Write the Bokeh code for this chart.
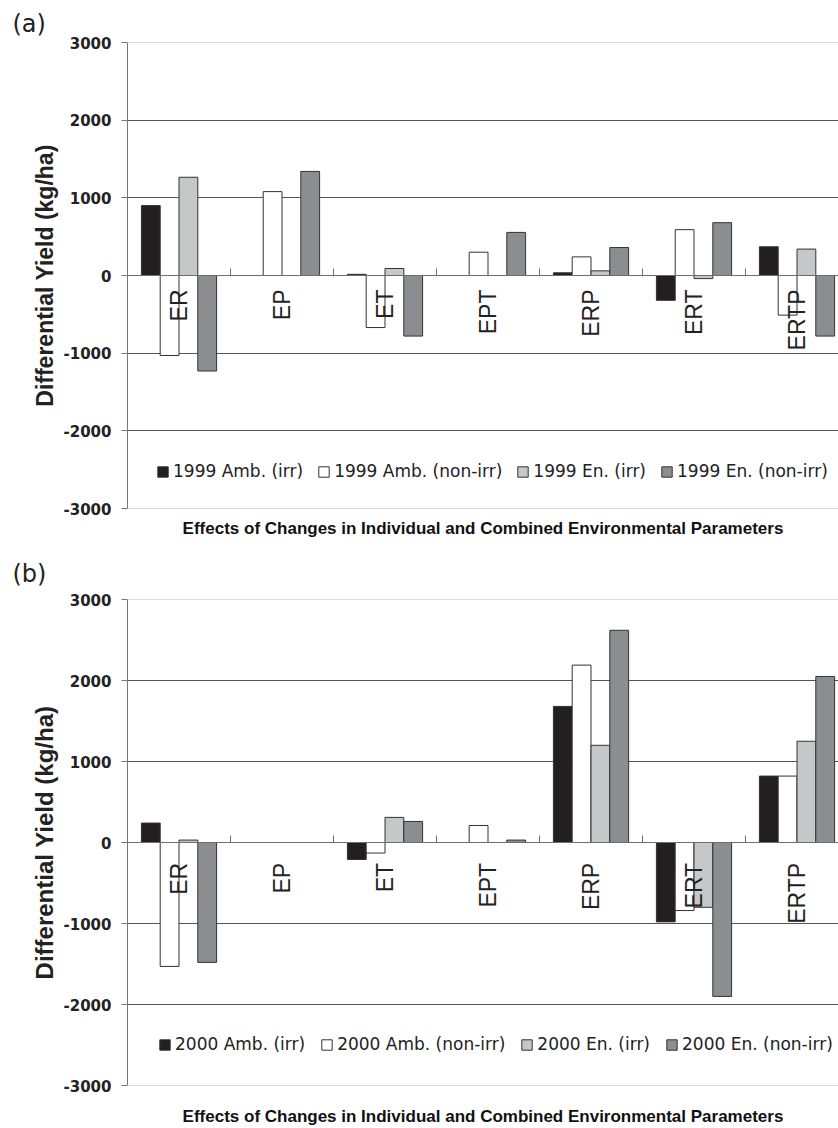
import numpy as np
from bokeh.plotting import figure
from bokeh.models import Range1d, FixedTicker, Span, ColumnDataSource, PrintfTickFormatter
from bokeh.layouts import column
from bokeh.embed import file_html
from bokeh.resources import INLINE
from bokeh.core.properties import value

# ---------------- data ----------------
categories = ["ER", "EP", "ET", "EPT", "ERP", "ERT", "ERTP"]
y_ticks = [-3000, -2000, -1000, 0, 1000, 2000, 3000]
x_title = "Effects of Changes in Individual and Combined Environmental Parameters"
y_title = "Differential Yield (kg/ha)"

series_1999 = ["1999 Amb. (irr)", "1999 Amb. (non-irr)", "1999 En. (irr)", "1999 En. (non-irr)"]
amb_irr_1999 = [900, 0, 15, 0, 35, -320, 370]
amb_nonirr_1999 = [-1030, 1080, -670, 300, 240, 590, -510]
en_irr_1999 = [1265, 0, 90, 0, 60, -40, 340]
en_nonirr_1999 = [-1230, 1340, -780, 555, 360, 680, -780]

series_2000 = ["2000 Amb. (irr)", "2000 Amb. (non-irr)", "2000 En. (irr)", "2000 En. (non-irr)"]
amb_irr_2000 = [240, 0, -210, 0, 1680, -980, 820]
amb_nonirr_2000 = [-1530, 0, -130, 210, 2190, -840, 820]
en_irr_2000 = [30, 0, 310, 0, 1200, -800, 1250]
en_nonirr_2000 = [-1480, 0, 260, 30, 2620, -1900, 2050]

colors = ["#231f20", "#ffffff", "#c6c7c9", "#8c8d91"]

BAR_W = 0.1825
OFFSETS = [-1.5 * BAR_W, -0.5 * BAR_W, 0.5 * BAR_W, 1.5 * BAR_W]
FIG_W = 838
LEFT_B = 127


def make_panel(tag, names, values, height, top_b, bottom_b, title_standoff,
               xlab_standoff, ylab_size, label_drop, leg_loc, leg_spacing):
    frame_h = height - top_b - bottom_b
    frame_w = FIG_W - LEFT_B
    p = figure(width=FIG_W, height=height, output_backend="svg", toolbar_location=None,
               x_range=Range1d(0, frame_w / 103.0), y_range=Range1d(-3000, 3000),
               min_border_left=LEFT_B, min_border_right=0,
               min_border_top=top_b, min_border_bottom=bottom_b)
    p.outline_line_color = None
    p.background_fill_color = "white"

    # title (panel tag)
    p.title.text = tag
    p.title.text_font = "DejaVu Sans"
    p.title.text_font_size = "24px"
    p.title.text_font_style = "normal"
    p.title.text_color = "#222222"
    p.title.align = "left"
    p.title.offset = 12 - LEFT_B
    p.title.standoff = title_standoff

    # y axis
    ya = p.yaxis[0]
    ya.ticker = FixedTicker(ticks=y_ticks)
    ya.formatter = PrintfTickFormatter(format="%d")
    ya.minor_tick_line_color = None
    ya.major_tick_in = 0
    ya.major_tick_out = 6
    ya.major_tick_line_color = "#777777"
    ya.axis_line_color = "#777777"
    ya.major_label_standoff = 10
    ya.major_label_text_font = "DejaVu Sans"
    ya.major_label_text_font_style = "bold"
    ya.major_label_text_font_size = "15px"
    ya.major_label_text_color = "#222222"
    ya.axis_label = y_title
    ya.axis_label_text_font = "Liberation Sans"
    ya.axis_label_text_font_style = "bold"
    ya.axis_label_text_font_size = ylab_size
    ya.axis_label_text_color = "#222222"
    ya.axis_label_standoff = 3

    # x axis: only its title
    xa = p.xaxis[0]
    xa.ticker = FixedTicker(ticks=[])
    xa.axis_line_color = None
    xa.major_tick_line_color = None
    xa.minor_tick_line_color = None
    xa.major_tick_out = 0
    xa.major_label_standoff = 0
    xa.axis_label = x_title
    xa.axis_label_text_font = "Liberation Sans"
    xa.axis_label_text_font_style = "bold"
    xa.axis_label_text_font_size = "17px"
    xa.axis_label_text_color = "#111111"
    xa.axis_label_standoff = xlab_standoff

    # grid
    p.xgrid.visible = False
    p.ygrid.ticker = FixedTicker(ticks=[-2000, -1000, 1000, 2000])
    p.ygrid.grid_line_color = "#555555"
    p.ygrid.grid_line_width = 1
    for yv in (3000, -3000):
        p.add_layout(Span(location=yv, dimension="width", line_color="#b5b5b5", line_width=1))

    # bars
    idx = np.arange(len(categories))
    for j, (name, vals) in enumerate(zip(names, values)):
        src = ColumnDataSource(dict(x=idx + 0.5 + OFFSETS[j], top=vals))
        p.vbar(x="x", top="top", bottom=0, width=BAR_W, source=src,
               fill_color=colors[j], line_color="#333333", line_width=1,
               legend_label=name)

    # zero (category) axis line with ticks
    p.add_layout(Span(location=0, dimension="width", line_color="#6e6e6e", line_width=1))
    px_per_unit = frame_h / 6000.0
    tick_h = 7 / px_per_unit
    bounds = idx[1:].astype(float)
    p.segment(x0=bounds, y0=np.zeros(len(bounds)), x1=bounds, y1=np.full(len(bounds), tick_h),
              line_color="#6e6e6e", line_width=1)

    # category labels, rotated, just below zero line
    lab_y = -label_drop / px_per_unit
    p.text(x=idx + 0.5, y=np.full(len(categories), lab_y), text=categories,
           angle=np.pi / 2, text_align="right", text_baseline="middle",
           text_font=value("Liberation Sans"), text_font_size="23px", text_color="#222222")

    # legend
    lg = p.legend[0]
    lg.orientation = "horizontal"
    lg.location = leg_loc
    lg.margin = 0
    lg.padding = 0
    lg.spacing = leg_spacing
    lg.border_line_color = None
    lg.background_fill_alpha = 0
    lg.glyph_width = 13
    lg.glyph_height = 13
    lg.label_standoff = 4
    lg.label_height = 20
    lg.label_text_font = "DejaVu Sans"
    lg.label_text_font_size = "17px"
    lg.label_text_color = "#222222"
    return p


p_a = make_panel("(a)", series_1999,
                 [amb_irr_1999, amb_nonirr_1999, en_irr_1999, en_nonirr_1999],
                 height=545, top_b=42, bottom_b=37, title_standoff=10,
                 xlab_standoff=10, ylab_size="23px", label_drop=14,
                 leg_loc=(29, 27), leg_spacing=14)

p_b = make_panel("(b)", series_2000,
                 [amb_irr_2000, amb_nonirr_2000, en_irr_2000, en_nonirr_2000],
                 height=583, top_b=52, bottom_b=41, title_standoff=24,
                 xlab_standoff=21, ylab_size="24px", label_drop=20.5,
                 leg_loc=(31, 31), leg_spacing=15)

layout = column(p_a, p_b, spacing=0)
open("out.html", "w").write(file_html(layout, INLINE))
